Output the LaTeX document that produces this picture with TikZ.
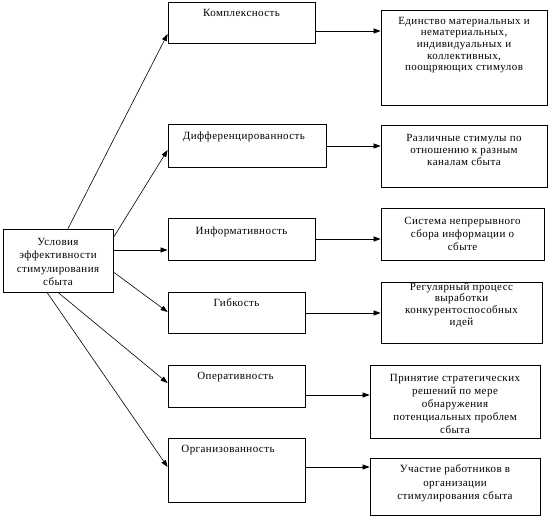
\documentclass[tikz,border=0pt]{standalone}
\usepackage{fontspec}
\setmainfont{Liberation Serif}[LetterSpace=4]
\usetikzlibrary{arrows.meta}
\begin{document}
\begin{tikzpicture}[x=1pt,y=-1pt,
 box/.style={draw, line width=0.8pt, inner sep=0pt, rectangle},
 txt/.style={inner sep=0pt, align=center, font=\fontsize{11}{12.5}\selectfont},
 arr/.style={-{Triangle[length=7pt,width=5pt]}, line width=0.6pt}]
\useasboundingbox (0,0) rectangle (552,524);
% left box
\node[box, minimum width=110pt, minimum height=63pt] (L) at (58,260.5) {};
\node[txt, font=\fontsize{11}{13.3}\selectfont] (Lt) at (58,262) {Условия\\эффективности\\стимулирования\\сбыта};
% middle boxes
\node[box, minimum width=147pt, minimum height=41pt] (m1) at (241.5,22.5) {};
\node[txt] (m1t) at (241.5,13) {Комплексность};
\node[box, minimum width=158pt, minimum height=43pt] (m2) at (247,145.5) {};
\node[txt] (m2t) at (244,137) {Дифференцированность};
\node[box, minimum width=147pt, minimum height=42pt] (m3) at (241.5,239) {};
\node[txt] (m3t) at (241.5,232) {Информативность};
\node[box, minimum width=137pt, minimum height=41pt] (m4) at (236.5,312.5) {};
\node[txt] (m4t) at (236.5,303) {Гибкость};
\node[box, minimum width=137pt, minimum height=42pt] (m5) at (236.5,386) {};
\node[txt] (m5t) at (235.5,377) {Оперативность};
\node[box, minimum width=137pt, minimum height=64pt] (m6) at (236.5,470) {};
\node[txt] (m6t) at (228,450) {Организованность};
% right boxes
\node[box, minimum width=166pt, minimum height=95pt] (r1) at (464,57.5) {};
\node[txt, font=\fontsize{11}{11.7}\selectfont] (r1t) at (464,45) {Единство материальных и\\нематериальных,\\индивидуальных и\\коллективных,\\поощряющих стимулов};
\node[box, minimum width=166pt, minimum height=62pt] (r2) at (464,156) {};
\node[txt, font=\fontsize{11}{11.7}\selectfont] (r2t) at (464,150) {Различные стимулы по\\отношению к разным\\каналам сбыта};
\node[box, minimum width=163pt, minimum height=52pt] (r3) at (462.5,234) {};
\node[txt, font=\fontsize{11}{13}\selectfont] (r3t) at (462.5,234) {Система непрерывного\\сбора информации о\\сбыте};
\node[box, minimum width=161pt, minimum height=61pt] (r4) at (461.5,312.5) {};
\node[txt, font=\fontsize{11}{11.7}\selectfont] (r4t) at (461.5,305) {Регулярный процесс\\выработки\\конкурентоспособных\\идей};
\node[box, minimum width=170pt, minimum height=73pt] (r5) at (455,401.5) {};
\node[txt, font=\fontsize{11}{13}\selectfont] (r5t) at (455,403.5) {Принятие стратегических\\решений по мере\\обнаружения\\потенциальных проблем\\сбыта};
\node[box, minimum width=170pt, minimum height=57pt] (r6) at (455,486.5) {};
\node[txt, font=\fontsize{11}{13.5}\selectfont] (r6t) at (455,483.5) {Участие работников в\\организации\\стимулирования сбыта};
% left arrows
\draw[arr] ([xshift=10pt]L.north) -- ([yshift=-11.5pt]m1.west);
\draw[arr] ([yshift=-9pt]L.north east) -- ([yshift=-4.5pt]m2.west);
\draw[arr] ([yshift=10.5pt]L.east) -- ([yshift=10.5pt]L.east -| m3.west);
\draw[arr] ([yshift=-11.5pt]L.east) -- ([yshift=0.5pt]m4.west);
\draw[arr] (L.south) -- ([yshift=3pt]m5.west);
\draw[arr] ([xshift=-11pt]L.south) -- ([yshift=3pt]m6.west);
% right arrows
\draw[arr] ([yshift=-8.5pt]m1.east) -- ([yshift=-8.5pt]m1.east -| r1.west);
\draw[arr] ([yshift=-0.5pt]m2.east) -- ([yshift=-0.5pt]m2.east -| r2.west);
\draw[arr] (m3.east) -- (m3.east -| r3.west);
\draw[arr] ([yshift=-0.5pt]m4.east) -- ([yshift=-0.5pt]m4.east -| r4.west);
\draw[arr] ([yshift=-9pt]m5.east) -- ([yshift=-9pt]m5.east -| r5.west);
\draw[arr] ([yshift=3pt]m6.east) -- ([yshift=3pt]m6.east -| r6.west);
\end{tikzpicture}
\end{document}
